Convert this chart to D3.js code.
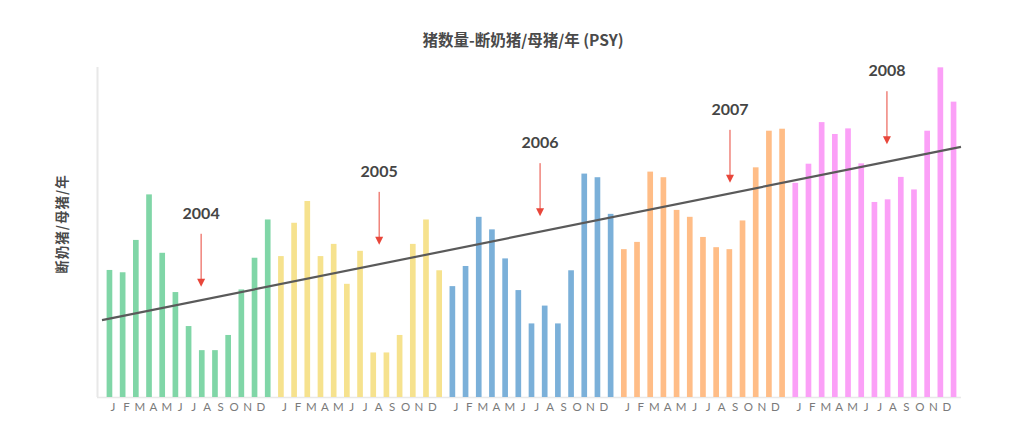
<!DOCTYPE html>
<html>
<head>
<meta charset="utf-8">
<script src="https://cdn.jsdelivr.net/npm/d3@7"></script>
<style>
  body { margin: 0; background: #fff; }
  text { font-family: Lato, "Noto Sans CJK SC", sans-serif; }
</style>
</head>
<body>
<div id="vis"></div>
<script>
var width = 1024
var height = 436

// 13 four-week periods per year (axis units are hidden)
var years = ["2004", "2005", "2006", "2007", "2008"]
var colors = ["#80d6a7", "#f6e28e", "#7bb0d9", "#ffbd87", "#fba0f7"]
var v2004 = [38.5, 37.8, 47.6, 61.4, 43.7, 31.8, 21.5, 14.2, 14.2, 18.8, 32.6, 42.2, 53.8]
var v2005 = [42.7, 52.8, 59.4, 42.7, 46.4, 34.3, 44.3, 13.5, 13.5, 18.8, 46.4, 53.8, 38.4]
var v2006 = [33.6, 39.7, 54.6, 50.8, 42.0, 32.4, 22.3, 27.7, 22.3, 38.4, 67.7, 66.6, 55.5]
var v2007 = [44.8, 47.0, 68.3, 66.6, 56.7, 54.6, 48.5, 45.4, 44.8, 53.5, 69.6, 80.7, 81.3]
var v2008 = [64.9, 70.7, 83.3, 79.7, 81.4, 70.8, 59.1, 59.9, 66.7, 62.9, 80.7, 99.9, 89.5]
var months = ["J", "F", "M", "A", "M", "J", "J", "A", "S", "O", "N", "D"]

// trend line values at the left and right ends of the plot
var trendVals = [23.3, 75.8]

// year annotations: bar position (fractional index) and arrow tip value
var annIdx = [6.95, 20.45, 32.65, 47.05, 58.95]
var annTip = [33.4, 46.1, 54.8, 64.9, 76.6]

var series = [v2004, v2005, v2006, v2007, v2008]
var bars = []
series.forEach(function(vals, yi) {
  vals.forEach(function(v, k) {
    bars.push({ id: bars.length, year: years[yi], color: colors[yi], value: v })
  })
})

var svg = d3.select("#vis")
  .append("svg")
  .attr("width", width)
  .attr("height", height)
  .style("display", "block")

var x = d3.scaleBand()
  .domain(bars.map(d => d.id))
  .range([102, 961])
  .paddingInner(0.57)
  .paddingOuter(0.35)

var y = d3.scaleLinear()
  .domain([0, 100])
  .range([397, 67])

// centre of bar i, also for fractional i
var xc = d3.scaleLinear()
  .domain([0, bars.length - 1])
  .range([x(0) + x.bandwidth() / 2, x(bars.length - 1) + x.bandwidth() / 2])

// axis lines
svg.append("line")
  .attr("x1", 97.5).attr("x2", 97.5)
  .attr("y1", y(100)).attr("y2", y(0))
  .attr("stroke", "#e8e8e8").attr("stroke-width", 2)
svg.append("line")
  .attr("x1", 97).attr("x2", x.range()[1])
  .attr("y1", y(0) + 0.5).attr("y2", y(0) + 0.5)
  .attr("stroke", "#e8e8e8").attr("stroke-width", 1.5)

// bars
svg.append("g")
  .selectAll("rect")
  .data(bars)
  .enter().append("rect")
    .attr("x", d => x(d.id))
    .attr("width", x.bandwidth())
    .attr("y", d => y(d.value))
    .attr("height", d => y(0) - y(d.value))
    .attr("fill", d => d.color)

// trend line
svg.append("line")
  .attr("x1", x.range()[0]).attr("y1", y(trendVals[0]))
  .attr("x2", x.range()[1]).attr("y2", y(trendVals[1]))
  .attr("stroke", "#5a5a5a")
  .attr("stroke-width", 2.2)

// month letters under each year
var monthG = svg.append("g")
years.forEach(function(yr, yi) {
  months.forEach(function(m, k) {
    monthG.append("text")
      .attr("x", xc(yi * 13 + 0.27 + k * 1.02))
      .attr("y", 410.5)
      .attr("text-anchor", "middle")
      .style("font-size", "11.5px")
      .style("fill", "#7a7a7a")
      .text(m)
  })
})

// year labels with red arrows
var arrowLen = 53
var ann = svg.append("g")
years.forEach(function(yr, i) {
  var ax = xc(annIdx[i])
  var tip = y(annTip[i])
  ann.append("line")
    .attr("x1", ax).attr("x2", ax)
    .attr("y1", tip - arrowLen).attr("y2", tip - 6)
    .attr("stroke", "#e8463a").attr("stroke-width", 1)
  ann.append("path")
    .attr("d", `M${ax - 4},${tip - 8} L${ax + 4},${tip - 8} L${ax},${tip} Z`)
    .attr("fill", "#e8463a")
  ann.append("text")
    .attr("x", ax)
    .attr("y", tip - arrowLen - 15)
    .attr("text-anchor", "middle")
    .style("font-size", "16px")
    .style("font-weight", "bold")
    .style("fill", "#454545")
    .text(yr)
})

// title
svg.append("text")
  .attr("x", 523)
  .attr("y", 46)
  .attr("text-anchor", "middle")
  .style("font-family", "'Noto Sans CJK SC', Lato, sans-serif")
  .style("font-size", "15.5px")
  .style("font-weight", "bold")
  .style("fill", "#4a4a4a")
  .text("猪数量-断奶猪/母猪/年 (PSY)")

// y axis label
svg.append("text")
  .attr("transform", "translate(67,224) rotate(-90)")
  .attr("text-anchor", "middle")
  .style("font-family", "'Noto Sans CJK SC', Lato, sans-serif")
  .style("font-size", "13.5px")
  .style("font-weight", "bold")
  .style("letter-spacing", "1px")
  .style("fill", "#4a4a4a")
  .text("断奶猪/母猪/年")
</script>
</body>
</html>
